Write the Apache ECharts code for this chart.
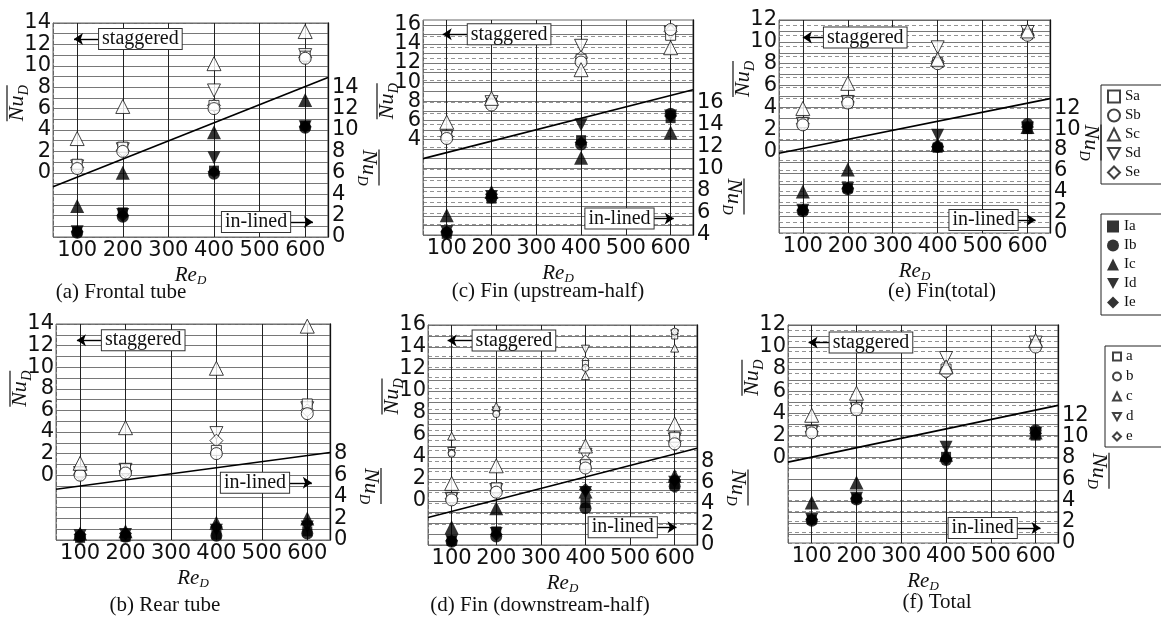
<!DOCTYPE html>
<html><head><meta charset="utf-8">
<script src="https://cdn.jsdelivr.net/npm/echarts@6.0.0/dist/echarts.min.js"></script>
<style>html,body{margin:0;padding:0;background:#fff}#chart{width:1161px;height:619px}</style>
</head><body><div id="chart"></div>
<script>
// ---------------- DATA ----------------
const ReD = [100, 200, 400, 600];
const xTickLabels = [100, 200, 300, 400, 500, 600];
const stagNames = ['Sa', 'Sb', 'Sc', 'Sd', 'Se'];
const inlNames = ['Ia', 'Ib', 'Ic', 'Id', 'Ie'];
const smallNames = ['a', 'b', 'c', 'd', 'e'];

// rows: Sa,Sb,Sc,Sd,Se (staggered, left axis) / Ia..Ie (in-lined, right axis); columns follow ReD
// (a) Frontal tube
const aStag = [[0.8,2.4,6.3,10.9],[0.4,2.0,6.0,10.7],[3.2,6.2,10.2,13.2],[0.6,2.2,7.7,11.0],[0.5,2.1,6.3,10.8]];
const aInl  = [[0.5,2.3,6.2,10.4],[0.4,1.9,5.9,10.2],[2.9,6.0,9.8,12.8],[0.5,2.1,7.4,10.3],[0.5,2.0,6.1,10.3]];
const aLine = [[47,-1.3],[650,8.9]];
const aLeftLabels = [0,2,4,6,8,10,12,14];
const aRightLabels = [0,2,4,6,8,10,12,14];
// (b) Rear tube
const bStag = [[0.3,0.6,2.3,6.6],[0.0,0.2,2.0,5.7],[1.1,4.4,9.9,13.8],[0.2,0.5,3.9,6.2],[0.1,0.4,3.2,6.0]];
const bInl  = [[0.2,0.3,0.5,0.8],[0.3,0.3,0.4,0.6],[0.6,0.8,1.6,2.0],[0.4,0.5,0.9,1.2],[0.5,0.6,1.2,1.5]];
const bLine = [[47,-1.3],[650,2.1]];
const bLeftLabels = [0,2,4,6,8,10,12,14];
const bRightLabels = [0,2,4,6,8];
// (c) Fin (upstream-half)
const cStag = [[4.4,7.8,12.4,14.9],[4.1,7.6,12.1,15.5],[5.8,8.3,11.3,13.6],[4.3,7.9,13.8,15.2],[4.3,8.0,12.6,15.3]];
const cInl  = [[4.1,7.3,12.6,14.6],[4.2,7.4,12.2,15.0],[5.8,7.9,11.0,13.3],[4.3,7.5,14.0,14.8],[4.3,7.7,12.4,14.8]];
const cLine = [[47,2.0],[650,9.2]];
const cLeftLabels = [4,6,8,10,12,14,16];
const cRightLabels = [4,6,8,10,12,14,16];
// (d) Fin (downstream-half); small symbols a..e = upstream-half values for comparison
const dStag = [[0.3,1.2,3.3,5.8],[0.1,0.8,3.0,5.2],[1.6,3.2,5.0,7.0],[0.2,1.0,4.2,5.6],[0.2,0.9,3.6,5.4]];
const dUp   = [[4.4,8.1,12.5,15.0],[4.3,7.9,12.1,15.4],[5.9,8.6,11.4,13.9],[4.5,8.2,13.8,15.2],[4.4,8.2,12.8,15.2]];
const dInl  = [[0.4,1.3,4.0,5.8],[0.3,0.8,3.5,5.6],[1.7,3.5,5.1,6.6],[0.4,1.1,5.0,6.0],[0.4,1.0,5.3,6.2]];
const dLine = [[47,-1.5],[650,4.8]];
const dLeftLabels = [0,2,4,6,8,10,12,14,16];
const dRightLabels = [0,2,4,6,8];
// (e) Fin(total)
const eStag = [[2.6,4.6,8.1,10.7],[2.4,4.4,8.0,10.6],[3.9,6.2,8.4,11.0],[2.5,4.5,9.5,10.9],[2.5,4.5,8.2,10.7]];
const eInl  = [[2.2,4.3,8.2,10.0],[2.1,4.2,8.3,10.5],[4.0,6.1,8.5,10.2],[2.2,4.3,9.4,10.1],[2.2,4.3,8.3,10.2]];
const eLine = [[47,-0.2],[650,4.8]];
const eLeftLabels = [0,2,4,6,8,10,12];
const eRightLabels = [0,2,4,6,8,10,12];
// (f) Total
const fStag = [[2.4,4.5,8.0,10.2],[2.2,4.3,7.8,10.0],[3.8,5.8,8.2,10.6],[2.3,4.4,9.0,10.4],[2.3,4.4,7.7,10.1]];
const fInl  = [[2.2,4.2,8.1,10.1],[2.1,4.1,7.8,10.6],[3.8,5.7,8.3,10.4],[2.2,4.2,9.0,10.3],[2.2,4.2,7.9,10.3]];
const fLine = [[47,-0.45],[650,4.7]];
const fLeftLabels = [0,2,4,6,8,10,12];
const fRightLabels = [0,2,4,6,8,10,12];

// ---------------- LAYOUT ----------------
const X_MIN = 47, X_MAX = 650;
const panels = [
  {grid:{left:53,top:23,width:275,height:214}, L:[-6,14], R:[0,20], lLab:aLeftLabels, rLab:aRightLabels, stag:aStag, inl:aInl, line:aLine,
   title:'(a) Frontal tube', tx:116, ty:277, nL:6.5, nR:6.5, st:[93,148,12.5], il:[567,617,1.4]},
  {grid:{left:56,top:324,width:274,height:216}, L:[-6,14], R:[0,20], lLab:bLeftLabels, rLab:bRightLabels, stag:bStag, inl:bInl, line:bLine,
   title:'(b) Rear tube', tx:160, ty:590, nL:8, nR:5, st:[93,148,12.5], il:[560,610,5.3]},
  {grid:{left:423,top:20,width:270,height:215}, L:[-6,16.5], R:[4,23.5], lLab:cLeftLabels, rLab:cRightLabels, stag:cStag, inl:cInl, line:cLine,
   title:'(c) Fin (upstream-half)', tx:543, ty:276, nL:8, nR:7.5, st:[91,147,15.0], il:[562,607,5.5]},
  {grid:{left:428,top:325,width:269,height:220}, L:[-4,16], R:[0,21], lLab:dLeftLabels, rLab:dRightLabels, stag:dStag, small:dUp, inl:dInl, line:dLine,
   title:'(d) Fin (downstream-half)', tx:535, ty:590, nL:9.5, nR:5.5, st:[91,147,14.6], il:[560,604,1.7]},
  {grid:{left:779,top:20,width:271,height:213}, L:[-7.5,12], R:[0,20.5], lLab:eLeftLabels, rLab:eRightLabels, stag:eStag, inl:eInl, line:eLine,
   title:'(e) Fin(total)', tx:937, ty:276, nL:6.6, nR:8.7, st:[100,147,10.4], il:[578,618,1.25]},
  {grid:{left:788,top:325,width:270,height:218}, L:[-7.8,12], R:[0,20.5], lLab:fLeftLabels, rLab:fRightLabels, stag:fStag, inl:fInl, line:fLine,
   title:'(f) Total', tx:932, ty:587, nL:7.2, nR:6.8, st:[93,140,10.4], il:[558,611,1.4]}
];

const INV_TRI = 'path://M0,0 L10,0 L5,9 Z';
const SYM = ['rect','circle','triangle',INV_TRI,'diamond'];
const SIZE = [10,12,14,13,13];
const SMALL_SIZE = [6,7,8,8,7];
const DRAW_ORDER = [3,4,0,1,2];
const NUM_FONT = 'DejaVu Sans';
const SERIF = 'Liberation Serif';

function intRange(a,b){const r=[];for(let v=Math.ceil(a);v<=Math.floor(b);v++)r.push(v);return r;}
function pts(vals){return ReD.map((x,k)=>[x, vals[k]]);}
function pick(arr, parity){return arr.filter((v,k)=>k%2===parity);}

const grids=[], xAxes=[], yAxes=[], series=[], titles=[];
panels.forEach((p,i)=>{
  grids.push(Object.assign({show:true, borderColor:'#666', borderWidth:1, backgroundColor:'transparent', outerBoundsMode:'none'}, p.grid));
  xAxes.push({type:'value', gridIndex:i, min:X_MIN, max:X_MAX,
    axisLine:{show:false}, axisTick:{show:false, customValues:xTickLabels},
    axisLabel:{customValues:xTickLabels, showMinLabel:true, showMaxLabel:true, hideOverlap:false, fontFamily:NUM_FONT, fontSize:21, color:'#111', margin:3},
    splitLine:{show:true, lineStyle:{color:'#222', width:1}},
    name:'{re|Re}{sub|D}', nameLocation:'middle', nameGap:14,
    nameTextStyle:{rich:{
      re:{fontFamily:SERIF, fontStyle:'italic', fontSize:21, color:'#111', lineHeight:22, verticalAlign:'top'},
      sub:{fontFamily:SERIF, fontStyle:'italic', fontSize:13, color:'#111', lineHeight:14, padding:[12,0,0,0], verticalAlign:'bottom'}
    }}
  });
  const lab = (vals, m) => ({customValues:vals, showMinLabel:true, showMaxLabel:true, hideOverlap:false,
    fontFamily:NUM_FONT, fontSize:21, color:'#111', margin:m});
  // 4 y axes per panel: left (main), right (main), left (alternate labels), right (alternate labels)
  yAxes.push({type:'value', gridIndex:i, position:'left', min:p.L[0], max:p.L[1],
    axisLine:{show:true, lineStyle:{color:'#666', type:'dashed', width:1}},
    axisTick:{show:false, customValues:intRange(p.L[0],p.L[1])},
    axisLabel:lab(pick(p.lLab,0),2),
    splitLine:{show:true, lineStyle:{color:'#555', width:0.8}}
  });
  yAxes.push({type:'value', gridIndex:i, position:'right', min:p.R[0], max:p.R[1],
    axisLine:{show:true, lineStyle:{color:'#111', width:1.3}},
    axisTick:{show:false, customValues:intRange(p.R[0],p.R[1])},
    axisLabel:lab(pick(p.rLab,0),4),
    splitLine:{show:true, lineStyle:{color:'#777', width:0.8, type:[4,3]}}
  });
  yAxes.push({type:'value', gridIndex:i, position:'left', offset:0, min:p.L[0], max:p.L[1],
    axisLine:{show:false}, axisTick:{show:false, customValues:pick(p.lLab,1)}, splitLine:{show:false},
    axisLabel:lab(pick(p.lLab,1),2)
  });
  yAxes.push({type:'value', gridIndex:i, position:'right', offset:0, min:p.R[0], max:p.R[1],
    axisLine:{show:false}, axisTick:{show:false, customValues:pick(p.rLab,1)}, splitLine:{show:false},
    axisLabel:lab(pick(p.rLab,1),4)
  });
  const lY = 4*i, rY = 4*i+1;
  // correlation line + "staggered" pointer
  series.push({type:'line', xAxisIndex:i, yAxisIndex:lY, data:p.line, symbol:'none', silent:true, z:3,
    lineStyle:{color:'#000', width:1.7},
    markLine:{silent:true, symbol:['arrow','none'], symbolSize:9, animation:false,
      lineStyle:{color:'#000', width:1.4, type:'solid'},
      label:{show:true, position:'end', distance:0, formatter:'staggered', fontFamily:SERIF, fontSize:20, color:'#111',
        backgroundColor:'#fff', borderColor:'#333', borderWidth:1, padding:[0,3,0,3]},
      data:[[{coord:[p.st[0],p.st[2]]},{coord:[p.st[1],p.st[2]]}]]}
  });
  DRAW_ORDER.forEach(k=>{
    series.push({type:'scatter', name:stagNames[k], xAxisIndex:i, yAxisIndex:lY, data:pts(p.stag[k]),
      symbol:SYM[k], symbolSize:SIZE[k], z:4,
      itemStyle:{color:'#fff', borderColor:'#111', borderWidth:1}});
  });
  if(p.small){
    DRAW_ORDER.forEach(k=>{
      series.push({type:'scatter', name:smallNames[k], xAxisIndex:i, yAxisIndex:lY, data:pts(p.small[k]),
        symbol:SYM[k], symbolSize:SMALL_SIZE[k], z:4,
        itemStyle:{color:'#fff', borderColor:'#111', borderWidth:1}});
    });
  }
  [0,1,2,3,4].forEach(k=>{
    const s = {type:'scatter', name:inlNames[k], xAxisIndex:i, yAxisIndex:rY, data:pts(p.inl[k]),
      symbol:SYM[k], symbolSize:SIZE[k], z:5, itemStyle:{color:'#000'}};
    if(k===0){
      s.markLine = {silent:true, symbol:['none','arrow'], symbolSize:9, animation:false,
        lineStyle:{color:'#000', width:1.4, type:'solid'},
        label:{show:true, position:'start', distance:0, formatter:'in-lined', fontFamily:SERIF, fontSize:20, color:'#111',
          backgroundColor:'#fff', borderColor:'#333', borderWidth:1, padding:[0,3,0,3]},
        data:[[{coord:[p.il[0],p.il[2]]},{coord:[p.il[1],p.il[2]]}]]};
    }
    series.push(s);
  });
  titles.push({text:p.title, left:p.tx, top:p.ty, textAlign:'center',
    textStyle:{fontFamily:SERIF, fontSize:21, fontWeight:'normal', color:'#111'}});
});

const legendText = {fontFamily:SERIF, fontSize:15, color:'#111'};
const option = {
  animation:false, backgroundColor:'#fff',
  title:titles, grid:grids, xAxis:xAxes, yAxis:yAxes, series:series,
  legend:[
    {data:stagNames, orient:'vertical', left:1101, top:85, itemGap:4, itemWidth:12, itemHeight:12, padding:[4,40,4,6],
     borderColor:'#222', borderWidth:1, textStyle:legendText, selectedMode:false},
    {data:inlNames, orient:'vertical', left:1101, top:214, itemGap:4, itemWidth:12, itemHeight:12, padding:[5,40,5,6],
     borderColor:'#222', borderWidth:1, textStyle:legendText, selectedMode:false},
    {data:smallNames, orient:'vertical', left:1105, top:346, itemGap:5, itemWidth:8, itemHeight:8, padding:[3,40,3,7],
     borderColor:'#222', borderWidth:1, textStyle:legendText, selectedMode:false}
  ]
};
const chart = echarts.init(document.getElementById('chart'), null, {renderer:'canvas'});
chart.setOption(option);

function nuLabel(cx, cy, rot){
  return {type:'group', x:cx, y:cy, rotation:rot, silent:true, children:[
    {type:'text', x:-18, y:8, style:{text:'Nu', font:'italic 22px "Liberation Serif"', fill:'#111', textVerticalAlign:'bottom', verticalAlign:'bottom'}},
    {type:'text', x:8, y:11, style:{text:'D', font:'italic 14px "Liberation Serif"', fill:'#111', textVerticalAlign:'bottom', verticalAlign:'bottom'}},
    {type:'line', shape:{x1:-18, y1:-13, x2:18, y2:-13}, style:{stroke:'#111', lineWidth:1.2}}
  ]};
}
const graphics = [];
panels.forEach((p,i)=>{
  const pl = chart.convertToPixel({xAxisIndex:i, yAxisIndex:4*i}, [X_MIN, p.nL]);
  const pr = chart.convertToPixel({xAxisIndex:i, yAxisIndex:4*i+1}, [X_MAX, p.nR]);
  graphics.push(nuLabel(pl[0]-33, pl[1], Math.PI/2));
  graphics.push(nuLabel(pr[0]+38, pr[1], -Math.PI/2));
});
chart.setOption({graphic:graphics});
</script></body></html>
